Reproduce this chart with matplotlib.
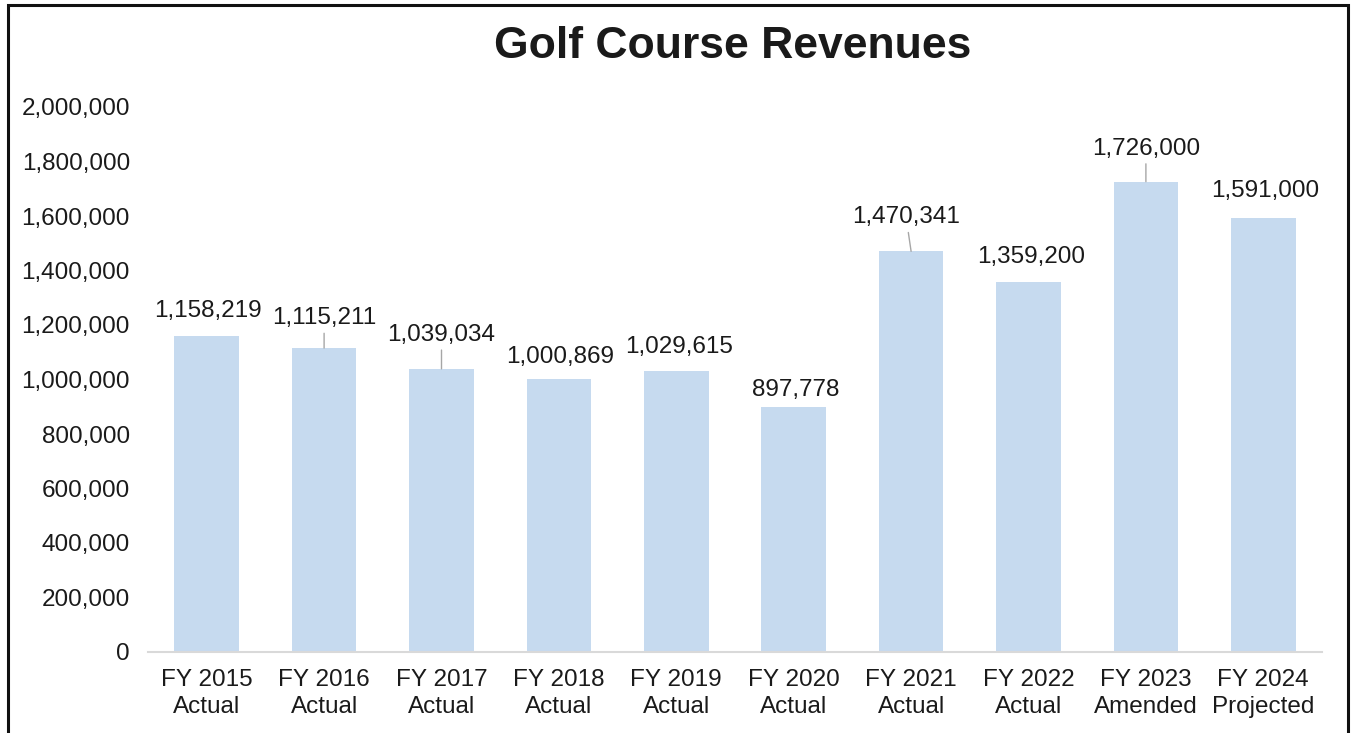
import matplotlib.pyplot as plt
from matplotlib.patches import Rectangle

# Выручка гольф-поля по годам
years = ["FY 2015", "FY 2016", "FY 2017", "FY 2018", "FY 2019",
         "FY 2020", "FY 2021", "FY 2022", "FY 2023", "FY 2024"]
kinds = ["Actual", "Actual", "Actual", "Actual", "Actual",
         "Actual", "Actual", "Actual", "Amended", "Projected"]
revenues = [1158219, 1115211, 1039034, 1000869, 1029615,
            897778, 1470341, 1359200, 1726000, 1591000]

# Смещения подписей от вершины столбца (в пикселях) и выноски
label_dx = [1, 0, 0, 1, 3, 2, -5, 3, 0, 2]
label_dy = [25, 30, 34, 22, 24, 17, 34, 25, 33, 27]
leaders = [False, True, True, False, False, False, True, False, True, False]

plt.rcParams['font.family'] = ['Liberation Sans', 'DejaVu Sans']
text_color = '#1a1a1a'
fs = 17.5

fig = plt.figure(figsize=(13.52, 7.33), dpi=100)
ax = fig.add_axes([148 / 1352, 81 / 733, 1174 / 1352, 545 / 733])

x = range(len(years))
ax.bar(x, revenues, width=0.55, color='#c6daef', zorder=2)

ax.set_xlim(-0.5, len(years) - 0.5)
ax.set_ylim(0, 2000000)
ax.set_yticks(range(0, 2000001, 200000))
ax.set_yticklabels([f"{v:,}" for v in range(0, 2000001, 200000)])
ax.set_xticks(list(x))
ax.set_xticklabels([f"{y}\n{k}" for y, k in zip(years, kinds)], linespacing=1.3)

ax.tick_params(axis='y', length=0, pad=13, labelsize=fs, labelcolor=text_color)
ax.tick_params(axis='x', length=0, pad=12, labelsize=fs, labelcolor=text_color)

for side in ['top', 'right', 'left']:
    ax.spines[side].set_visible(False)
ax.spines['bottom'].set_color('#d9d9d9')
ax.spines['bottom'].set_linewidth(1.5)

# Подписи значений над столбцами
for i, v in enumerate(revenues):
    arrow = None
    if leaders[i]:
        arrow = dict(arrowstyle='-', color='#a6a6a6', lw=1, shrinkA=1, shrinkB=0)
    ax.annotate(f"{v:,}", xy=(i, v), xytext=(label_dx[i], label_dy[i]),
                textcoords='offset pixels', ha='center', va='center',
                fontsize=fs, color=text_color, arrowprops=arrow)

fig.text(733 / 1352, 1 - 46 / 733, "Golf Course Revenues", ha='center', va='center',
         fontsize=32, fontweight='bold', color=text_color)

# Рамка вокруг всего рисунка
fig.patches.append(Rectangle((8 / 1352, -0.05), 1340 / 1352, 1.05 - 5 / 733,
                             transform=fig.transFigure, fill=False,
                             edgecolor='#111111', linewidth=2.2))

fig.savefig('out.png', dpi=100)
